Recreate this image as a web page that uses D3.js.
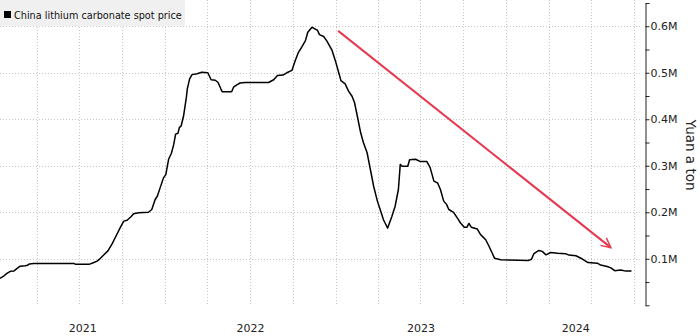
<!DOCTYPE html>
<html>
<head>
<meta charset="utf-8">
<script src="https://cdn.jsdelivr.net/npm/d3@7"></script>
<style>
  body { margin: 0; background: #fff; }
  svg { display: block; font-family: "DejaVu Sans", sans-serif; }
</style>
</head>
<body>
<div id="chart"></div>
<script>
// China lithium carbonate spot price, yuan a ton
var dates = [
  "2021-01-12","2021-01-19","2021-01-26","2021-02-03","2021-02-11","2021-02-17","2021-02-24","2021-03-07",
  "2021-03-12","2021-03-16","2021-03-25","2021-06-19","2021-06-22","2021-07-23","2021-08-01","2021-08-08",
  "2021-08-15","2021-08-22","2021-08-31","2021-09-09","2021-09-18","2021-09-27","2021-10-04","2021-10-11",
  "2021-10-20","2021-10-25","2021-11-05","2021-11-26","2021-12-03","2021-12-10","2021-12-15","2021-12-21",
  "2021-12-28","2022-01-02","2022-01-08","2022-01-14","2022-01-19","2022-01-23","2022-01-28","2022-01-31",
  "2022-02-04","2022-02-09","2022-02-15","2022-02-17","2022-02-22","2022-02-27","2022-03-10","2022-03-20",
  "2022-04-02","2022-04-09","2022-04-18","2022-04-24","2022-04-30","2022-05-03","2022-05-23","2022-05-27",
  "2022-06-03","2022-06-10","2022-06-21","2022-08-10","2022-08-21","2022-08-29","2022-09-10","2022-09-18",
  "2022-09-29","2022-10-06","2022-10-13","2022-10-20","2022-10-28","2022-11-02","2022-11-11","2022-11-18",
  "2022-11-23","2022-11-27","2022-12-06","2022-12-13","2022-12-24","2022-12-31","2023-01-07","2023-01-12",
  "2023-01-21","2023-01-28","2023-02-05","2023-02-10","2023-02-16","2023-02-23","2023-03-01","2023-03-09",
  "2023-03-16","2023-03-23","2023-03-31","2023-04-06","2023-04-13","2023-04-22","2023-05-01","2023-05-08",
  "2023-05-15","2023-05-19","2023-05-23","2023-06-04","2023-06-08","2023-06-21","2023-07-01","2023-07-15",
  "2023-07-22","2023-07-30","2023-08-07","2023-08-13","2023-08-20","2023-08-26","2023-08-31","2023-09-10",
  "2023-09-18","2023-09-25","2023-10-03","2023-10-09","2023-10-13","2023-10-18","2023-10-31","2023-11-07",
  "2023-11-18","2023-11-25","2023-12-02","2023-12-07","2023-12-20","2024-02-18","2024-02-24","2024-02-29",
  "2024-03-11","2024-03-18","2024-03-26","2024-04-05","2024-04-20","2024-05-07","2024-05-14","2024-05-29",
  "2024-06-12","2024-06-24","2024-07-14","2024-07-21","2024-08-04","2024-08-12","2024-08-20","2024-09-02",
  "2024-09-13","2024-09-25"
]
var prices = [
  58000, 62000, 68000, 73000, 74000, 79000, 84000, 85000,
  86000, 89000, 90000, 90000, 88500, 88500, 92000, 95000,
  101000, 108000, 117000, 132000, 150000, 168000, 181000, 183000,
  191000, 197000, 199000, 200000, 206000, 227000, 235000, 253000,
  274000, 281000, 314000, 327000, 346000, 368000, 370000, 382000,
  386000, 407000, 447000, 465000, 487000, 496000, 498000, 501000,
  500000, 485000, 484000, 479000, 465000, 459000, 459000, 469000,
  474000, 478000, 479000, 479000, 485000, 494000, 495000, 500000,
  505000, 526000, 544000, 555000, 569000, 587000, 598000, 594000,
  591000, 582000, 578000, 568000, 548000, 526000, 501000, 483000,
  476000, 461000, 449000, 436000, 407000, 372000, 350000, 328000,
  292000, 256000, 224000, 206000, 184000, 166000, 191000, 213000,
  249000, 303000, 299000, 299000, 313000, 314000, 309000, 309000,
  296000, 267000, 263000, 249000, 224000, 217000, 206000, 200000,
  188000, 177000, 168000, 168000, 176000, 168000, 164000, 152000,
  141000, 127000, 112000, 101000, 98000, 96500, 99000, 111000,
  118000, 116000, 108500, 113500, 112000, 111000, 108000, 106500,
  99500, 92000, 90500, 86500, 83500, 80500, 74500, 76000,
  73500, 73500
]

var seriesName = "China lithium carbonate spot price"
var yTitle = "Yuan a ton"
var xDomain = ["2021-01-12", "2024-10-24"]
var yDomain = [0, 650000]
var yTicks = [0, 50000, 100000, 150000, 200000, 250000, 300000, 350000, 400000, 450000, 500000, 550000, 600000, 650000]
var yLabels = [100000, 200000, 300000, 400000, 500000, 600000]
var years = [2021, 2022, 2023, 2024]
var quarterGrid = ["2021-04-01","2021-07-01","2021-10-01","2022-01-01","2022-04-01","2022-07-01","2022-10-01",
  "2023-01-01","2023-04-01","2023-07-01","2023-10-01","2024-01-01","2024-04-01","2024-07-01","2024-10-01"]
// trend arrow annotation: [date, price] start and end
var arrowFrom = ["2023-01-06", 590000]
var arrowTo = ["2024-08-12", 124000]

var parse = d3.timeParse("%Y-%m-%d")
var data = dates.map(function(d, i) { return {date: parse(d), price: prices[i]} })

var width = 700, height = 336
var plotRight = 645, plotTop = 3, plotBottom = 305.3

var svg = d3.select("#chart").append("svg")
    .attr("width", width)
    .attr("height", height)

var x = d3.scaleTime()
    .domain(xDomain.map(parse))
    .range([0, plotRight])

var y = d3.scaleLinear()
    .domain(yDomain)
    .range([plotBottom, plotTop])

// grid
svg.append("g").selectAll("line.hgrid")
    .data(yLabels)
    .enter().append("line")
    .attr("class", "hgrid")
    .attr("x1", 0).attr("x2", plotRight - 3)
    .attr("y1", d => Math.round(y(d)) + 0.5)
    .attr("y2", d => Math.round(y(d)) + 0.5)
    .attr("stroke", "#c8c8c8")
    .attr("stroke-dasharray", "1,2")

svg.append("g").selectAll("line.vgrid")
    .data(quarterGrid)
    .enter().append("line")
    .attr("class", "vgrid")
    .attr("x1", d => Math.round(x(parse(d))) + 0.5)
    .attr("x2", d => Math.round(x(parse(d))) + 0.5)
    .attr("y1", 0).attr("y2", plotBottom)
    .attr("stroke", "#c8c8c8")
    .attr("stroke-dasharray", "1,2")

// legend
var legend = svg.append("g")
legend.append("rect")
    .attr("x", 0).attr("y", 0)
    .attr("width", 185).attr("height", 26)
    .attr("fill", "#f0f0f0")
legend.append("rect")
    .attr("x", 4).attr("y", 11)
    .attr("width", 7).attr("height", 7)
    .attr("fill", "#000")
legend.append("text")
    .attr("x", 14).attr("y", 18.5)
    .attr("font-size", "9.7px")
    .attr("fill", "#111")
    .text(seriesName)

// line
var line = d3.line()
    .x(d => x(d.date))
    .y(d => y(d.price))

svg.append("path")
    .datum(data)
    .attr("fill", "none")
    .attr("stroke", "#000")
    .attr("stroke-width", 1.5)
    .attr("stroke-linejoin", "round")
    .attr("d", line)

// arrow
svg.append("defs").append("marker")
    .attr("id", "head")
    .attr("viewBox", "0 0 10 10")
    .attr("refX", 9).attr("refY", 5)
    .attr("markerWidth", 6).attr("markerHeight", 6)
    .attr("markerUnits", "strokeWidth")
    .attr("orient", "auto")
  .append("path")
    .attr("d", "M1,1L9,5L1,9")
    .attr("fill", "none")
    .attr("stroke", "#e63950")
    .attr("stroke-width", 1.2)

svg.append("line")
    .attr("x1", x(parse(arrowFrom[0]))).attr("y1", y(arrowFrom[1]))
    .attr("x2", x(parse(arrowTo[0]))).attr("y2", y(arrowTo[1]))
    .attr("stroke", "#e63950")
    .attr("stroke-width", 2)
    .attr("marker-end", "url(#head)")

// y axis on the right
var yAxis = d3.axisRight(y)
    .tickValues(yTicks)
    .tickSize(4)
    .tickSizeOuter(0)
    .tickFormat(d => yLabels.indexOf(d) >= 0 ? d3.format(".1f")(d / 1e6) + "M" : "")

var yg = svg.append("g")
    .attr("transform", "translate(" + (plotRight + 0.5) + ",0)")
    .call(yAxis)
yg.select(".domain").attr("stroke", "#222")
yg.selectAll(".tick line").attr("stroke", "#222")
yg.selectAll(".tick text")
    .attr("x", 5)
    .attr("font-size", "11px")
    .attr("font-family", "DejaVu Sans, sans-serif")
    .attr("fill", "#222")

svg.append("text")
    .attr("transform", "translate(686," + 155 + ") rotate(90)")
    .attr("text-anchor", "middle")
    .attr("font-size", "13.5px")
    .attr("fill", "#222")
    .text(yTitle)

// year labels centred in the visible part of each year
var x0 = x.domain()[0], x1 = x.domain()[1]
svg.append("g").selectAll("text.year")
    .data(years)
    .enter().append("text")
    .attr("class", "year")
    .attr("x", function(d) {
        var a = new Date(d, 0, 1), b = new Date(d + 1, 0, 1)
        if (a < x0) a = x0
        if (b > x1) b = x1
        return (x(a) + x(b)) / 2
    })
    .attr("y", 332)
    .attr("text-anchor", "middle")
    .attr("font-size", "11px")
    .attr("fill", "#222")
    .text(d => d)
</script>
</body>
</html>
